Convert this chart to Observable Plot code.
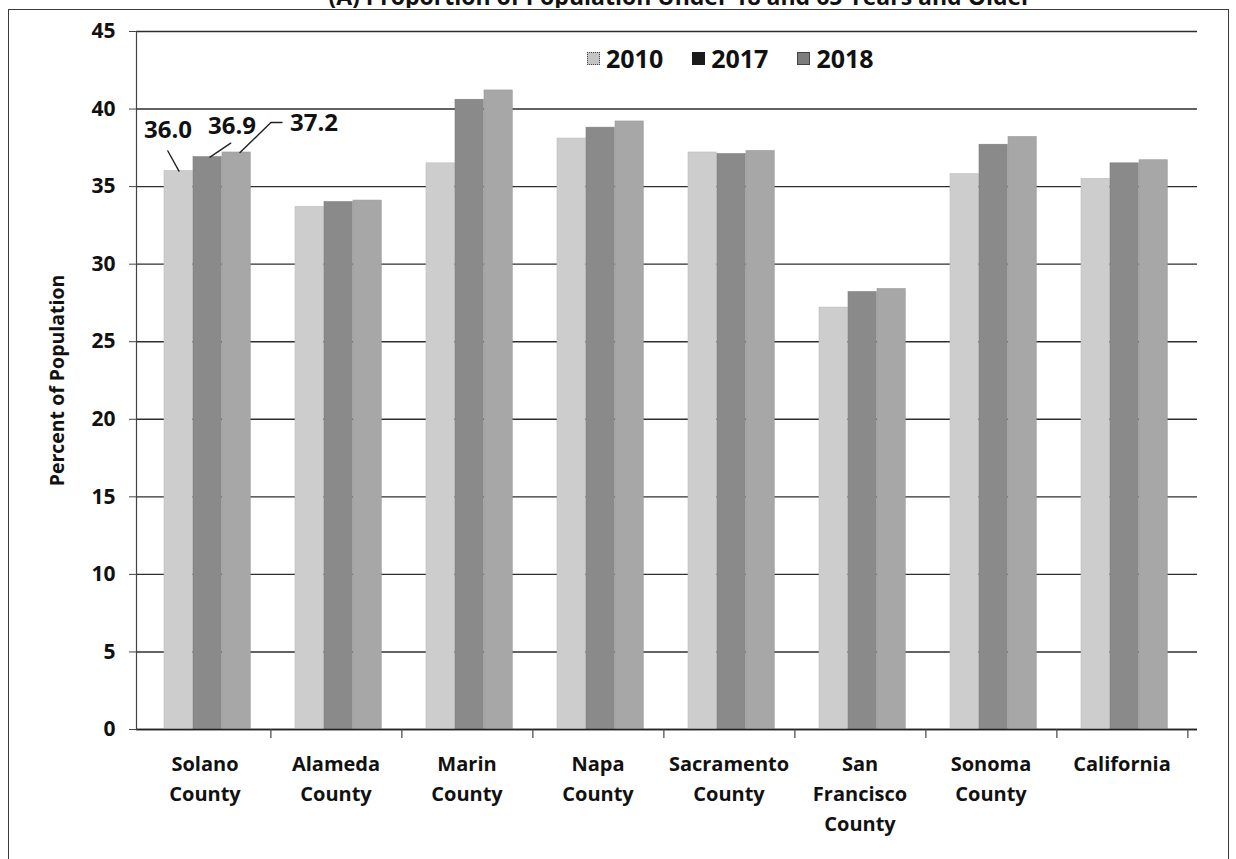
<!DOCTYPE html>
<html>
<head>
<meta charset="utf-8">
<script src="https://cdn.jsdelivr.net/npm/d3@7"></script>
<script src="https://cdn.jsdelivr.net/npm/@observablehq/plot@0.6"></script>
<style>
  html, body { margin: 0; padding: 0; background: #fff; }
  body { width: 1236px; height: 859px; position: relative; overflow: hidden; font-family: "Open Sans", sans-serif; }
  #frame { position: absolute; left: 8px; top: 9px; width: 1221px; height: 870px; border: 1.5px solid #3a3a3a; border-bottom: none; box-sizing: border-box; }
  #title { position: absolute; left: 0; top: 0; width: 1236px; height: 8px; overflow: hidden; }
  #title span { position: absolute; left: 0; width: 1360px; top: -20px; text-align: center; font-weight: 700; font-size: 23px; color: #111; }
  #chart { position: absolute; left: 0; top: 0; }
  #legend { position: absolute; top: 41px; left: 587px; display: flex; align-items: center; font-weight: 700; font-size: 25px; color: #111; }
  #legend .item { display: flex; align-items: center; margin-right: 29px; }
  #legend .sw { width: 13px; height: 13px; margin-right: 6px; box-sizing: border-box; }
</style>
</head>
<body>
<div id="title"><span>(A) Proportion of Population Under 18 and 65 Years and Older</span></div>
<div id="frame"></div>
<div id="chart"></div>
<div id="legend"></div>
<script>
// ---- data ----
const counties = ["Solano County", "Alameda County", "Marin County", "Napa County", "Sacramento County", "San Francisco County", "Sonoma County", "California"];
const countyLabels = ["Solano\nCounty", "Alameda\nCounty", "Marin\nCounty", "Napa\nCounty", "Sacramento\nCounty", "San\nFrancisco\nCounty", "Sonoma\nCounty", "California"];
const years = ["2010", "2017", "2018"];
const values2010 = [36.0, 33.7, 36.5, 38.1, 37.2, 27.2, 35.8, 35.5];
const values2017 = [36.9, 34.0, 40.6, 38.8, 37.1, 28.2, 37.7, 36.5];
const values2018 = [37.2, 34.1, 41.2, 39.2, 37.3, 28.4, 38.2, 36.7];
const yTicks = [0, 5, 10, 15, 20, 25, 30, 35, 40, 45];
const labeledCounty = "Solano County";

// ---- styles ----
const barColors = {"2010": "#cdcdcd", "2017": "#8a8a8a", "2018": "#a7a7a7"};
const legendSwatch = {
  "2010": "background:#c4c4c4;border:1px dotted #444;",
  "2017": "background:#1b1b1b;",
  "2018": "background:#7d7d7d;border:1px solid #444;"
};
const W = 1236, H = 859, mt = 31, mb = 130, ml = 136, mr = 46;
const step = (W - ml - mr) / counties.length;
const barW = 29, leftPad = 25;
const font = "Open Sans";

const series = {"2010": values2010, "2017": values2017, "2018": values2018};
const rows = years.flatMap(y => counties.map((c, i) => ({county: c, year: y, value: series[y][i]})));
const idx = counties.indexOf(labeledCounty);
const labelRows = years.map(y => ({county: labeledCounty, year: y, value: series[y][idx]}));

const barMarks = years.map((y, i) => Plot.barY(rows.filter(r => r.year === y), {
  x: "county", y: "value", fill: barColors[y],
  stroke: d3.color(barColors[y]).darker(0.25).formatHex(), strokeWidth: 0.6,
  insetLeft: leftPad + i * barW,
  insetRight: step - leftPad - (i + 1) * barW
}));

const lineShape = {draw(ctx, l) { ctx.moveTo(0, 0); ctx.lineTo(0, -l); }};
// label offsets relative to band centre
const labelDx = [-37, 27, 109], labelDy = [-41, -31, -29];
const leader = [
  {dx: -26, dy: 0, len: 23, rot: -29},
  {dx: 5, dy: 0, len: 25, rot: 56},
  {dx: 35, dy: 0, len: 43, rot: 46},
  {dx: 66, dy: -30, len: 11, rot: 90}
];
const leaderRows = [labelRows[0], labelRows[1], labelRows[2], labelRows[2]];

const plot = Plot.plot({
  width: W, height: H,
  marginTop: mt, marginBottom: mb, marginLeft: ml, marginRight: mr,
  style: {fontFamily: font, background: "transparent", color: "#111"},
  x: {type: "band", domain: counties, padding: 0, axis: null},
  y: {domain: [0, 45], axis: null},
  marks: [
    Plot.gridY(yTicks, {stroke: "#2e2e2e", strokeOpacity: 1, strokeWidth: 1.4, insetRight: -7}),
    ...barMarks,
    Plot.ruleY([0], {stroke: "#222", strokeWidth: 1.3, insetRight: -7}),
    Plot.frame({anchor: "left", stroke: "#444", strokeWidth: 1.2}),
    Plot.ruleX(counties, {x: d => d, dx: step / 2, stroke: "#444", strokeWidth: 1.2, insetTop: H - mt - mb, insetBottom: -9}),
    Plot.axisY({ticks: yTicks, tickSize: 7, tickPadding: 14, fontSize: 21, fontWeight: 700, fontFamily: font, stroke: "#444", fill: "#111", label: null}),
    Plot.text(["Percent of Population"], {frameAnchor: "left", textAnchor: "middle", dx: -79, rotate: -90, fontSize: 19.5, fontWeight: 700, fontFamily: font, fill: "#111"}),
    Plot.text(counties, {x: d => d, text: (d, i) => countyLabels[i], frameAnchor: "bottom", lineAnchor: "top", dy: 20, lineHeight: 1.5, fontSize: 20, fontWeight: 700, fontFamily: font, fill: "#111"}),
    ...labelRows.map((r, i) => Plot.text([r], {x: "county", y: "value", text: d => d.value.toFixed(1), dx: labelDx[i], dy: labelDy[i], fontSize: 24, fontWeight: 700, fontFamily: font, fill: "#111"})),
    ...leaderRows.map((r, i) => Plot.vector([r], {x: "county", y: "value", dx: leader[i].dx, dy: leader[i].dy, length: leader[i].len, rotate: leader[i].rot, anchor: "start", shape: lineShape, stroke: "#222", strokeWidth: 1.4}))
  ]
});
document.getElementById("chart").appendChild(plot);

const legend = document.getElementById("legend");
years.forEach(y => {
  const item = document.createElement("div");
  item.className = "item";
  item.innerHTML = `<span class="sw" style="${legendSwatch[y]}"></span><span>${y}</span>`;
  legend.appendChild(item);
});
</script>
</body>
</html>
